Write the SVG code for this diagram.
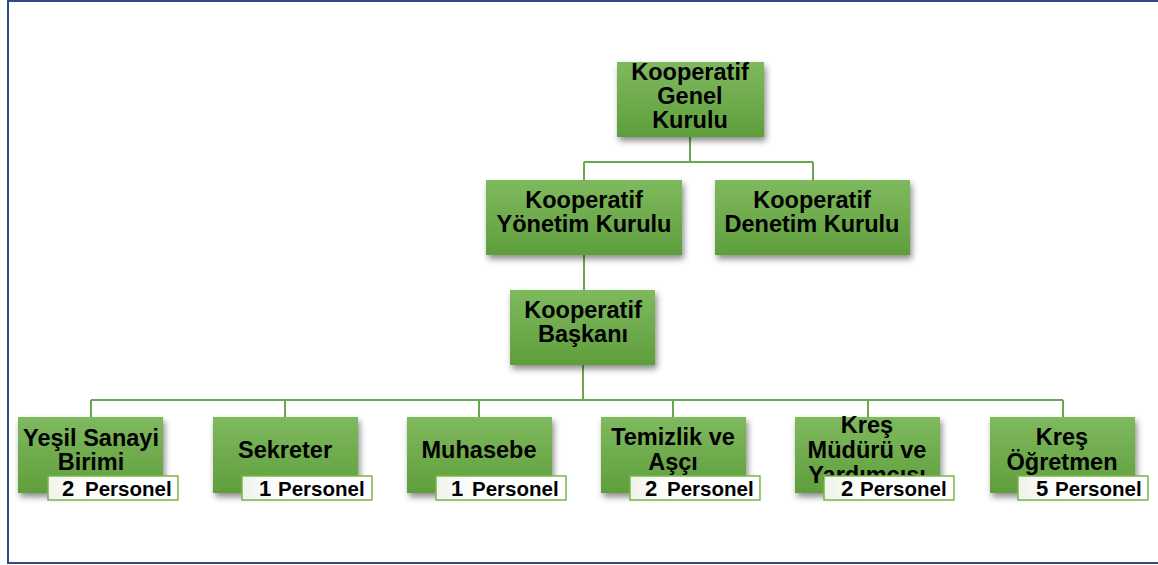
<svg xmlns="http://www.w3.org/2000/svg" width="1158" height="565" viewBox="0 0 1158 565">
<defs>
<linearGradient id="g" x1="0" y1="0" x2="0" y2="1">
<stop offset="0" stop-color="#7fb95e"/>
<stop offset="1" stop-color="#5f9e3c"/>
</linearGradient>
<linearGradient id="w" x1="0" y1="0" x2="1" y2="0">
<stop offset="0" stop-color="#eef3ea"/>
<stop offset="0.3" stop-color="#ffffff"/>
</linearGradient>
<filter id="sh" x="-10%" y="-10%" width="125%" height="130%">
<feDropShadow dx="2" dy="4" stdDeviation="3" flood-color="#000" flood-opacity="0.45"/>
</filter>
</defs>
<style>
.box{fill:url(#g);filter:url(#sh)}
.t{font-family:"Liberation Sans",Arial,sans-serif;font-weight:bold;fill:#000;text-anchor:middle;font-size:23.5px}
.lab{fill:url(#w);stroke:#7ab648;stroke-width:1.5}
.lt{font-family:"Liberation Sans",Arial,sans-serif;font-weight:bold;font-size:20.5px;fill:#000}
.n{font-size:22px}
.c{fill:none;stroke:#6aa84f;stroke-width:2}
</style>
<rect x="0" y="0" width="1158" height="565" fill="#fff"/>
<rect x="8" y="1" width="1160" height="562" fill="none" stroke="#2f4b85" stroke-width="2"/>
<g id="connectors">
<path class="c" d="M690 137V162M584 162H813M584 162V180M813 162V180"/>
<path class="c" d="M584 255V290"/>
<path class="c" d="M583 365V400M91 400H1063M91 400V417M285 400V417M479 400V417M673 400V417M868 400V417M1063 400V417"/>
</g>
<g id="genel">
<rect class="box" x="617" y="62" width="147" height="75"/>
<text class="t" x="690" y="80">Kooperatif</text>
<text class="t" x="690" y="104">Genel</text>
<text class="t" x="690" y="128">Kurulu</text>
</g>
<g id="yonetim">
<rect class="box" x="486" y="180" width="196" height="75"/>
<text class="t" x="584" y="208">Kooperatif</text>
<text class="t" x="584" y="232">Yönetim Kurulu</text>
</g>
<g id="denetim">
<rect class="box" x="715" y="180" width="195" height="75"/>
<text class="t" x="812" y="208">Kooperatif</text>
<text class="t" x="812" y="232">Denetim Kurulu</text>
</g>
<g id="baskan">
<rect class="box" x="510" y="290" width="145" height="75"/>
<text class="t" x="583" y="318">Kooperatif</text>
<text class="t" x="583" y="342">Başkanı</text>
</g>
<g id="yesil">
<rect class="box" x="18" y="417" width="145" height="76"/>
<text class="t" x="91" y="446">Yeşil Sanayi</text>
<text class="t" x="91" y="470">Birimi</text>
<rect class="lab" x="48" y="476" width="130" height="24"/>
<text class="lt" y="496"><tspan class="n" x="62">2</tspan> <tspan x="85">Personel</tspan></text>
</g>
<g id="sekreter">
<rect class="box" x="213" y="417" width="145" height="76"/>
<text class="t" x="285" y="458">Sekreter</text>
<rect class="lab" x="242" y="476" width="130" height="24"/>
<text class="lt" y="496"><tspan class="n" x="259">1</tspan> <tspan x="278">Personel</tspan></text>
</g>
<g id="muhasebe">
<rect class="box" x="407" y="417" width="145" height="76"/>
<text class="t" x="479" y="458">Muhasebe</text>
<rect class="lab" x="436" y="476" width="130" height="24"/>
<text class="lt" y="496"><tspan class="n" x="451">1</tspan> <tspan x="472">Personel</tspan></text>
</g>
<g id="temizlik">
<rect class="box" x="601" y="417" width="145" height="76"/>
<text class="t" x="673" y="445">Temizlik ve</text>
<text class="t" x="673" y="470">Aşçı</text>
<rect class="lab" x="630" y="476" width="130" height="24"/>
<text class="lt" y="496"><tspan class="n" x="645">2</tspan> <tspan x="667">Personel</tspan></text>
</g>
<g id="kresmudur">
<rect class="box" x="795" y="417" width="145" height="76"/>
<text class="t" x="867" y="433">Kreş</text>
<text class="t" x="867" y="458">Müdürü ve</text>
<text class="t" x="867" y="483">Yardımcısı</text>
<rect class="lab" x="824" y="476" width="130" height="24"/>
<text class="lt" y="496"><tspan class="n" x="841">2</tspan> <tspan x="860">Personel</tspan></text>
</g>
<g id="kresogretmen">
<rect class="box" x="990" y="417" width="145" height="76"/>
<text class="t" x="1062" y="445">Kreş</text>
<text class="t" x="1062" y="470">Öğretmen</text>
<rect class="lab" x="1018" y="476" width="130" height="24"/>
<text class="lt" y="496"><tspan class="n" x="1036">5</tspan> <tspan x="1055">Personel</tspan></text>
</g>
</svg>
